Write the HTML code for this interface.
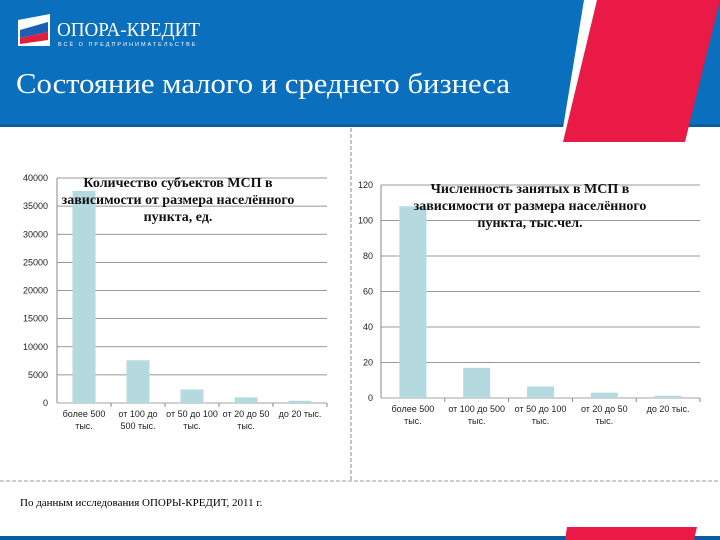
<!DOCTYPE html>
<html><head><meta charset="utf-8"><style>
body{margin:0;width:720px;height:540px;overflow:hidden;background:#fff;font-family:"Liberation Sans",sans-serif;}
#root{position:relative;width:720px;height:540px;}
.abs{position:absolute;}
</style></head><body><div id="root">
<svg width="720" height="540" class="abs" style="left:0;top:0">
<rect x="0" y="0" width="720" height="126" fill="#0a6fbd"/>
<rect x="0" y="124" width="720" height="3" fill="#0b5e9e"/>
<polygon points="584,0 597,0 576,128 563,128" fill="#fff"/>
<polygon points="597,0 720,0 685,142 563,142" fill="#ea1a47"/>
<rect x="0" y="536" width="720" height="4" fill="#0b5e9e"/>
<polygon points="567,527 697,527 694,540 565,540" fill="#ea1a47"/>
<line x1="351" y1="128" x2="351" y2="481" stroke="#888" stroke-dasharray="4,2"/>
<line x1="0" y1="481" x2="720" y2="481" stroke="#999" stroke-dasharray="4,2"/>
<g>
<polygon points="18,20 50,14 50,46 18,46" fill="#fff"/>
<polygon points="20,30 48,22 48,32 20,38" fill="#1a5fb4"/>
<polygon points="20,38 48,32 48,40 20,44" fill="#e31e3c"/>
</g>
<text x="57" y="36" fill="#fff" font-family="Liberation Serif, serif" font-size="20" textLength="143" lengthAdjust="spacingAndGlyphs">ОПОРА-КРЕДИТ</text>
<text x="58" y="46" fill="#fff" font-size="5.5" letter-spacing="2">ВСЁ О ПРЕДПРИНИМАТЕЛЬСТВЕ</text>
<text x="16" y="93" fill="#fff" font-family="Liberation Serif, serif" font-size="29" textLength="494" lengthAdjust="spacingAndGlyphs">Состояние малого и среднего бизнеса</text>
<text x="20" y="506" fill="#000" font-family="Liberation Serif, serif" font-size="11">По данным исследования ОПОРЫ-КРЕДИТ, 2011 г.</text>
<g id="c1"></g><g id="c2"></g>
</svg>
<script>
const cats1=["более 500|тыс.","от 100 до|500 тыс.","от 50 до 100|тыс.","от 20 до 50|тыс.","до 20 тыс."];
const vals1=[37700,7600,2400,1000,400];
const ticks1=[0,5000,10000,15000,20000,25000,30000,35000,40000];
const cats2=["более 500|тыс.","от 100 до 500|тыс.","от 50 до 100|тыс.","от 20 до 50|тыс.","до 20 тыс."];
const vals2=[108,17,6.5,3,1.3];
const ticks2=[0,20,40,60,80,100,120];
const NS="http://www.w3.org/2000/svg";
function mk(p,t,a){const e=document.createElementNS(NS,t);for(const k in a)e.setAttribute(k,a[k]);p.appendChild(e);return e;}
function chart(g,cats,vals,ticks,x0,x1,y0,y1,bw,title,tx,ty,lblX){
 const max=ticks[ticks.length-1];
 const ys=v=>y0-(v/max)*(y0-y1);
 const cw=(x1-x0)/cats.length;
 ticks.forEach(t=>{
  const gl=mk(g,'line',{x1:x0,x2:x1,y1:ys(t),y2:ys(t),stroke:t===0?'#888':'#777','stroke-width':0.8});
  
  
  const tl=mk(g,'text',{x:lblX,y:ys(t)+3,'text-anchor':'end','font-size':9,fill:'#222'});
  tl.textContent=t;
  
  
 });
 mk(g,'line',{x1:x0,x2:x0,y1:y1,y2:y0,stroke:'#888'});
 cats.forEach((c,i)=>{
  const cx=x0+cw*(i+0.5);
  const b=mk(g,'rect',{x:cx-bw/2,y:ys(vals[i]),width:bw,height:y0-ys(vals[i]),fill:'#b4dae0'});
  
  
  mk(g,'line',{x1:x0+cw*(i+1),x2:x0+cw*(i+1),y1:y0,y2:y0+4,stroke:'#888'});
  c.split('|').forEach((s,j)=>{
   const t=mk(g,'text',{x:cx,y:y0+14+j*12,'text-anchor':'middle','font-size':9,fill:'#222'});
   t.textContent=s;
   
   
  });
 });
 title.forEach((s,j)=>{
  const t=mk(g,'text',{x:tx,y:ty+j*17,'text-anchor':'middle','font-size':14,'font-weight':'bold','font-family':'Liberation Serif, serif',fill:'#111'});
  t.textContent=s;
  
  
 });
}
chart(document.getElementById('c1'),cats1,vals1,ticks1,57,327,403,178,23,["Количество субъектов МСП в","зависимости от размера населённого","пункта, ед."],178,187,48);
chart(document.getElementById('c2'),cats2,vals2,ticks2,381,700,398,185,27,["Численность занятых в МСП в","зависимости от размера населённого","пункта, тыс.чел."],530,193,373);
</script>
</div></body></html>
